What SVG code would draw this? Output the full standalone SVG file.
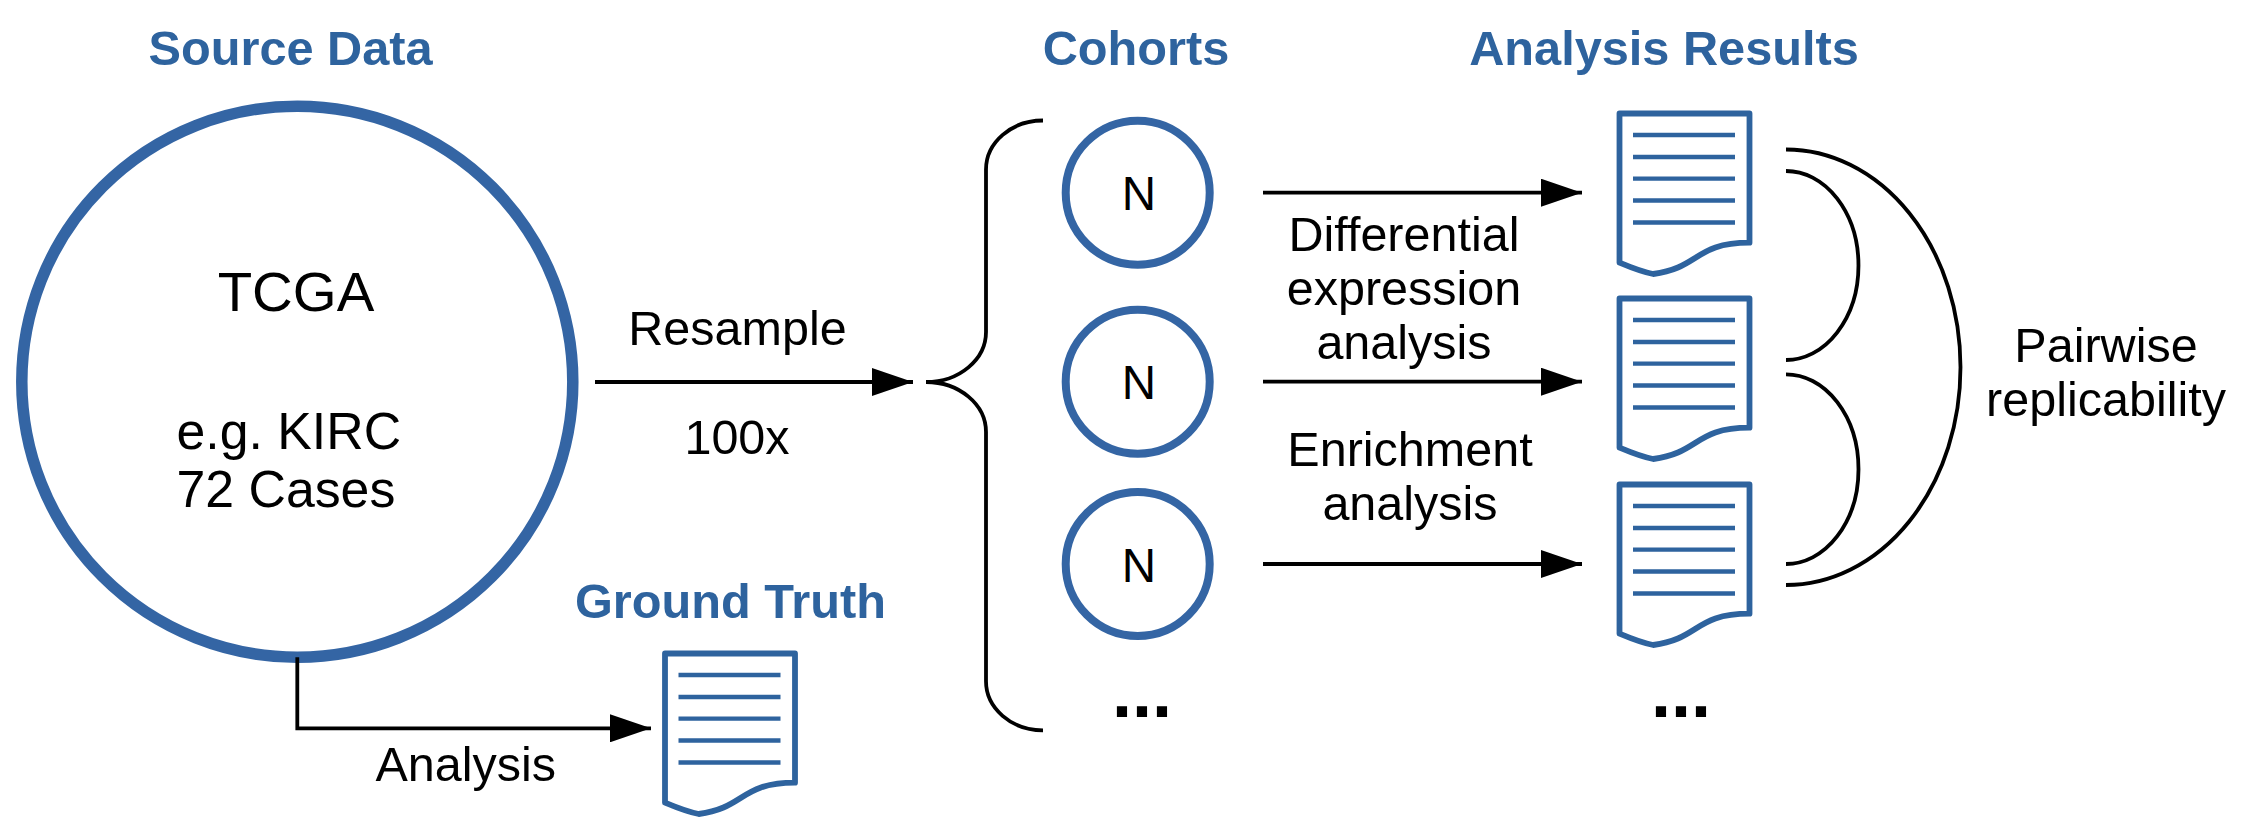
<svg xmlns="http://www.w3.org/2000/svg" xmlns:xlink="http://www.w3.org/1999/xlink" width="2250" height="833" viewBox="0 0 2250 833">
<style>
text{font-family:"Liberation Sans",Arial,sans-serif;fill:#000;font-size:48.500px}
.h{font-weight:bold;fill:#2e639e;font-size:48.700px;text-anchor:middle}
.m{text-anchor:middle}
.t{font-size:51.800px}
.n{font-size:47.500px;text-anchor:middle}
.e{font-size:72px;font-weight:bold;text-anchor:middle}
.c{fill:#fff;stroke:#3465a4;stroke-width:8}
.l{fill:none;stroke:#000;stroke-width:3.800}
.d{fill:#fff;stroke:#2e639e;stroke-width:5.800;stroke-linejoin:round}
.dl{stroke:#2e639e;stroke-width:4.300}
</style>
<defs>
<marker id="a" markerUnits="userSpaceOnUse" markerWidth="41" markerHeight="28" refX="41" refY="14" orient="auto"><path d="M0 0L41 14L0 28Z" fill="#000"/></marker>
<g id="doc">
<path class="d" d="M665 653.500H795V782.700C740 782.700 745 808 698.700 814C690 812.500 680 809 665 802.700Z"/>
<path class="dl" d="M678.500 675H780.500M678.500 697H780.500M678.500 718.700H780.500M678.500 740.500H780.500M678.500 762.500H780.500"/>
</g>
</defs>
<rect width="2250" height="833" fill="#fff"/>
<g id="source"><circle class="c" cx="297.300" cy="381.700" r="275.500" style="stroke-width:11.500"/>
<text class="m" x="296" y="311" style="font-size:56.400px">TCGA</text>
<text class="t" x="176.500" y="449">e.g. KIRC</text>
<text class="t" x="176.500" y="507">72 Cases</text></g>
<g id="connectors">
<path class="l" marker-end="url(#a)" d="M595 382H913"/>
<path class="l" marker-end="url(#a)" d="M297.300 657.300V728.300H651"/>
<path class="l" marker-end="url(#a)" d="M1263 192.700H1582"/>
<path class="l" marker-end="url(#a)" d="M1263 381.700H1582"/>
<path class="l" marker-end="url(#a)" d="M1263 564H1582"/>
<path class="l" d="M1043 120.500A57 49 0 0 0 986 169.500V332A60 50 0 0 1 926 382A60 50 0 0 1 986 432V681A57 49 0 0 0 1043 730.300"/>
<path class="l" d="M1786 171A72.500 94.500 0 0 1 1786 360"/>
<path class="l" d="M1786 374.300A72.500 94.850 0 0 1 1786 564"/>
<path class="l" d="M1786 149.500A174.500 217.750 0 0 1 1786 585"/>
</g>
<text class="h" x="290.600" y="65">Source Data</text>
<text class="h" x="1136" y="65">Cohorts</text>
<text class="h" x="1664" y="65">Analysis Results</text>
<text class="h" x="730.400" y="618">Ground Truth</text>
<g id="cohort1"><circle class="c" cx="1137.700" cy="192.700" r="72"/><text class="n" x="1138.800" y="210">N</text></g>
<g id="cohort2"><circle class="c" cx="1137.700" cy="381.700" r="72"/><text class="n" x="1138.800" y="398.700">N</text></g>
<g id="cohort3"><circle class="c" cx="1137.700" cy="564" r="72"/><text class="n" x="1138.800" y="581.500">N</text></g>
<g id="groundtruth"><use xlink:href="#doc"/></g>
<g id="result1"><use xlink:href="#doc" x="954.500" y="-540"/></g>
<g id="result2"><use xlink:href="#doc" x="954.500" y="-355"/></g>
<g id="result3"><use xlink:href="#doc" x="954.500" y="-169"/></g>
<text class="m" x="737.500" y="345">Resample</text>
<text class="m" x="737" y="454">100x</text>
<text class="m" x="465.700" y="781">Analysis</text>
<text class="m" x="1404" y="251">Differential</text>
<text class="m" x="1404" y="305">expression</text>
<text class="m" x="1404" y="359">analysis</text>
<text class="m" x="1410" y="466">Enrichment</text>
<text class="m" x="1410" y="520">analysis</text>
<text class="m" x="2106" y="362">Pairwise</text>
<text class="m" x="2106" y="416">replicability</text>
<text class="e" x="1142" y="717">...</text>
<text class="e" x="1681" y="717">...</text>
</svg>
